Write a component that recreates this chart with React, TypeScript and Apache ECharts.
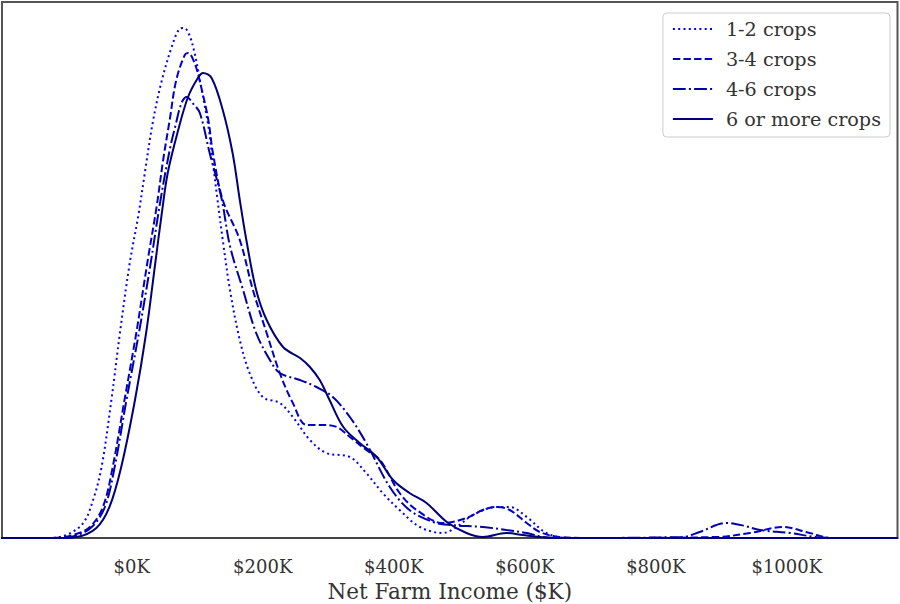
import React, { useEffect, useRef } from "react";
import * as echarts from "echarts";

// Net farm income in $K (x) and estimated KDE density (relative units, y)
const crops12X = [-200, -130, -100, -74, -59, -46, -31, -18, -3, 10, 20, 32, 45, 61, 73, 80, 88, 96, 106, 117, 124, 131, 139, 150, 165, 180, 200, 226, 246, 272, 297, 333, 358, 383, 409, 440, 475, 496, 521, 557, 577, 603, 633, 664, 1169];
const crops12Y = [0, 0, 0.03, 0.15, 0.38, 0.71, 1.38, 2.05, 2.75, 3.22, 3.65, 4.15, 4.55, 4.91, 5.09, 5.10, 5.03, 4.85, 4.51, 4.12, 3.75, 3.38, 2.98, 2.48, 1.98, 1.65, 1.41, 1.35, 1.21, 0.98, 0.85, 0.81, 0.65, 0.45, 0.28, 0.11, 0.05, 0.11, 0.23, 0.31, 0.31, 0.21, 0.05, 0, 0];

const crops34X = [-200, -120, -90, -64, -44, -29, -11, 7, 25, 38, 48, 58, 68, 81, 86, 96, 106, 117, 124, 139, 165, 185, 206, 226, 246, 267, 292, 313, 333, 358, 379, 409, 435, 475, 511, 536, 557, 577, 603, 623, 653, 700, 893, 944, 994, 1035, 1070, 1169];
const crops34Y = [0, 0, 0.03, 0.11, 0.31, 0.71, 1.38, 2.05, 2.80, 3.31, 3.78, 4.18, 4.58, 4.83, 4.85, 4.75, 4.51, 4.18, 3.85, 3.38, 2.98, 2.48, 2.05, 1.65, 1.35, 1.13, 1.13, 1.11, 1.01, 0.88, 0.78, 0.45, 0.28, 0.15, 0.20, 0.28, 0.31, 0.28, 0.15, 0.06, 0.01, 0, 0.01, 0.05, 0.11, 0.05, 0, 0];

const crops46X = [-200, -115, -87, -61, -41, -26, -8, 11, 28, 44, 58, 67, 76, 84, 93, 104, 119, 137, 150, 170, 190, 211, 226, 257, 282, 307, 333, 358, 394, 424, 460, 486, 536, 572, 603, 628, 653, 841, 867, 908, 936, 959, 1005, 1045, 1081, 1169];
const crops46Y = [0, 0, 0.02, 0.11, 0.31, 0.71, 1.38, 2.05, 2.71, 3.38, 3.88, 4.13, 4.35, 4.41, 4.35, 4.25, 3.85, 3.40, 2.92, 2.48, 2.05, 1.78, 1.65, 1.58, 1.51, 1.41, 1.21, 0.95, 0.51, 0.28, 0.16, 0.13, 0.11, 0.08, 0.05, 0.01, 0, 0.01, 0.06, 0.15, 0.12, 0.08, 0.05, 0.01, 0, 0];

const crops6X = [-200, -110, -84, -54, -34, -16, 5, 22, 36, 46, 55, 71, 86, 101, 109, 122, 139, 154, 165, 175, 190, 206, 231, 257, 272, 287, 302, 323, 348, 374, 399, 424, 450, 481, 511, 536, 572, 597, 623, 653, 1169];
const crops6Y = [0, 0, 0.01, 0.10, 0.31, 0.71, 1.38, 2.05, 2.75, 3.25, 3.65, 4.08, 4.41, 4.60, 4.65, 4.60, 4.28, 3.85, 3.38, 2.98, 2.48, 2.18, 1.91, 1.80, 1.71, 1.58, 1.38, 1.11, 0.95, 0.81, 0.58, 0.45, 0.35, 0.16, 0.05, 0.01, 0.05, 0.03, 0.01, 0, 0];

const seriesNames = ["1-2 crops", "3-4 crops", "4-6 crops", "6 or more crops"];
const tickValues = [0, 200, 400, 600, 800, 1000];

const zip = (xs: number[], ys: number[]) => xs.map((x, i) => [x, ys[i]]);

export default function App() {
  const ref = useRef<HTMLDivElement>(null);
  useEffect(() => {
    if (!ref.current) return;
    const chart = echarts.init(ref.current, null, { renderer: "svg" });
    const font = "'DejaVu Serif', serif";
    const styles = [
      { color: "#0000ff", type: [2, 3.3] },
      { color: "#0000cd", type: [7.4, 3.2] },
      { color: "#0000a8", type: [12.8, 3.2, 2, 3.2] },
      { color: "#00007a", type: "solid" },
    ];
    const datasets = [
      zip(crops12X, crops12Y),
      zip(crops34X, crops34Y),
      zip(crops46X, crops46Y),
      zip(crops6X, crops6Y),
    ];
    chart.setOption({
      animation: false,
      backgroundColor: "#ffffff",
      grid: {
        left: 2,
        right: 2.5,
        top: 2,
        bottom: 66,
        show: true,
        borderColor: "#555",
        borderWidth: 2,
        backgroundColor: "transparent",
        containLabel: false,
        outerBoundsMode: "none",
      },
      legend: {
        orient: "vertical",
        right: 10,
        top: 13,
        padding: [6, 9, 8, 9],
        itemWidth: 40,
        itemHeight: 14,
        itemGap: 10,
        borderColor: "#cccccc",
        borderWidth: 1,
        borderRadius: 4,
        backgroundColor: "#ffffff",
        data: seriesNames,
        itemStyle: { opacity: 0 },
        textStyle: {
          fontFamily: font,
          fontSize: 19.2,
          color: "#333333",
          lineHeight: 20,
          padding: [0, 0, 0, 8],
        },
      },
      xAxis: {
        type: "value",
        min: -198,
        max: 1169,
        name: "Net Farm Income ($K)",
        nameLocation: "middle",
        nameGap: 42,
        nameTextStyle: { fontFamily: font, fontSize: 21.5, color: "#333333" },
        axisLine: { show: true, lineStyle: { color: "#444", width: 2 } },
        axisTick: { show: false },
        splitLine: { show: false },
        axisLabel: {
          customValues: tickValues,
          formatter: (v: number) => `$${v}K`,
          fontFamily: font,
          fontSize: 18,
          color: "#333333",
          margin: 19,
          showMinLabel: true,
          showMaxLabel: true,
        },
      },
      yAxis: {
        type: "value",
        min: 0,
        max: 5.36,
        show: false,
        splitLine: { show: false },
      },
      series: seriesNames.map((name, i) => ({
        name,
        type: "line",
        data: datasets[i],
        symbol: "none",
        showSymbol: false,
        smooth: 0.35,
        lineStyle: { color: styles[i].color, width: 2, type: styles[i].type },
        itemStyle: { color: styles[i].color },
        z: 2 + i,
      })),
    });
    return () => chart.dispose();
  }, []);
  return (
    <div
      ref={ref}
      style={{ position: "fixed", left: 0, top: 0, width: 900, height: 604, background: "#fff" }}
    />
  );
}
